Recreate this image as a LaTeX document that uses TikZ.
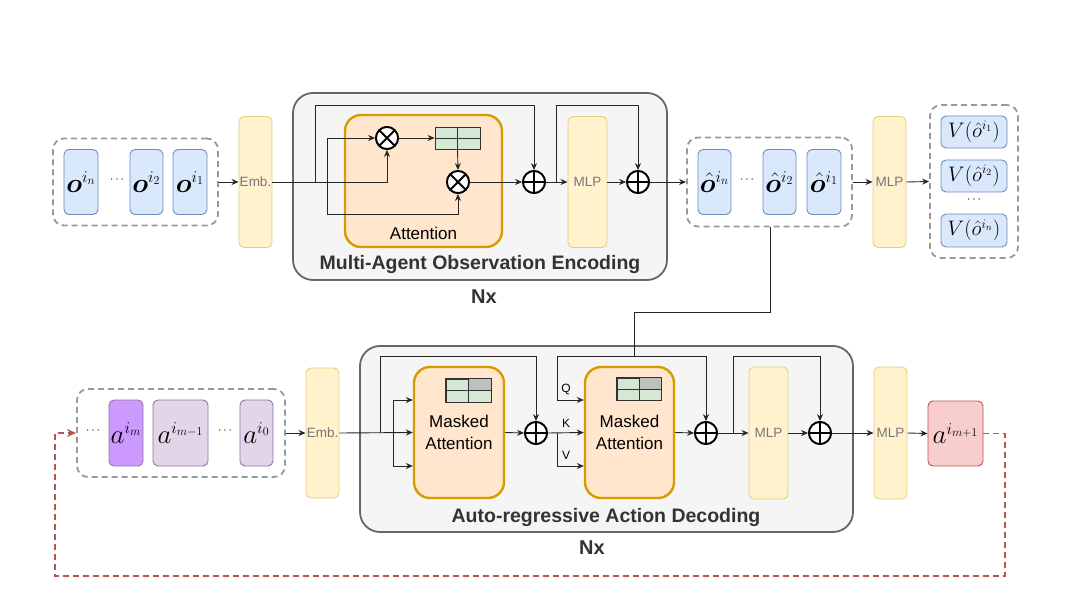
\RequirePackage{fix-cm}
\documentclass[tikz,border=0pt]{standalone}
\usepackage[no-math]{fontspec}
\usepackage{bm}
\newfontfamily\lsans{Liberation Sans}
\usetikzlibrary{arrows.meta,calc}
\DeclareMathSizes{27}{27}{16.5}{12}
\DeclareMathSizes{21}{21}{13}{9.5}
\definecolor{bfill}{HTML}{DAE8FC}
\definecolor{bdraw}{HTML}{6C8EBF}
\definecolor{yfill}{HTML}{FFF2CC}
\definecolor{ydraw}{HTML}{E6CF85}
\definecolor{ofill}{HTML}{FFE6CC}
\definecolor{odraw}{HTML}{D79B00}
\definecolor{gfill}{HTML}{F5F5F5}
\definecolor{gdraw}{HTML}{666666}
\definecolor{tfill}{HTML}{D5E8D4}
\definecolor{pfill}{HTML}{CC99FF}
\definecolor{lpfill}{HTML}{E1D5E7}
\definecolor{pdraw}{HTML}{9673A6}
\definecolor{rfill}{HTML}{F8CECC}
\definecolor{rdraw}{HTML}{B85450}
\definecolor{dashgray}{HTML}{999999}
\definecolor{txtgray}{HTML}{777777}
\definecolor{titlegray}{HTML}{333333}
\newcommand{\mfont}{\fontsize{27}{27}\selectfont}
\newcommand{\vfont}{\fontsize{21}{21}\selectfont}
\newcommand{\dfont}{\fontsize{12}{12}\selectfont}
\begin{document}
\begin{tikzpicture}[x=1pt,y=-1pt,
  lbox/.style={rounded corners=5pt, inner sep=0pt, line width=0.9pt},
  bluebox/.style={lbox, fill=bfill, draw=bdraw},
  ybox/.style={lbox, fill=yfill, draw=ydraw, font=\lsans\fontsize{13.5}{13.5}\selectfont, text=txtgray},
  grp/.style={rounded corners=11pt, draw=dashgray, line width=1.8pt, dash pattern=on 6pt off 4pt, inner sep=0pt},
  bigbox/.style={rounded corners=20pt, fill=gfill, draw=gdraw, line width=1.8pt, inner sep=0pt},
  attbox/.style={rounded corners=16pt, fill=ofill, draw=odraw, line width=2.4pt, inner sep=0pt},
  tab/.style={fill=tfill, draw=black!80, line width=0.8pt, inner sep=0pt},
  conn/.style={draw=black!85, line width=0.9pt},
  arr/.style={conn, -{Stealth[length=7pt,width=6pt]}},
  opl/.style={circle, draw=black, fill=white, line width=1.8pt, minimum size=22pt, inner sep=0pt,
    path picture={\draw[line width=1.8pt] (path picture bounding box.north) -- (path picture bounding box.south)
      (path picture bounding box.west) -- (path picture bounding box.east);}},
  otm/.style={circle, draw=black, fill=white, line width=1.8pt, minimum size=22pt, inner sep=0pt,
    path picture={\draw[line width=1.8pt] (path picture bounding box.north west) -- (path picture bounding box.south east)
      (path picture bounding box.south west) -- (path picture bounding box.north east);}},
  title/.style={font=\lsans\bfseries\fontsize{19.5}{19.5}\selectfont, text=titlegray},
  nx/.style={font=\lsans\bfseries\fontsize{20}{20}\selectfont, text=titlegray},
  small/.style={font=\lsans\fontsize{12}{12}\selectfont}
]
\useasboundingbox[fill=white] (0,0) rectangle (1076,593);

% ---------------- Encoder ----------------
\node[bigbox, minimum width=374pt, minimum height=187pt] (enc) at (480,186.5) {};
\node[attbox, minimum width=157pt, minimum height=132pt] (att) at (423.5,181) {};
\node[font=\lsans\fontsize{17}{17}\selectfont] (attlab) at (423.5,233) {Attention};
\node[title] (enctitle) at (480,265) {Multi-Agent Observation Encoding};
\node[nx] (nx1) at (484,297) {Nx};

\node[grp, minimum width=165pt, minimum height=87pt] (grp1) at (135.5,182) {};
\node[bluebox, minimum width=34pt, minimum height=65pt] (on) at (81,182) {\mfont$\bm{o}^{i_n}$};
\node (dots1) at (117,180) {\dfont$\cdots$};
\node[bluebox, minimum width=33pt, minimum height=65pt] (o2) at (146.5,182) {\mfont$\bm{o}^{i_2}$};
\node[bluebox, minimum width=34pt, minimum height=65pt] (o1) at (190,182) {\mfont$\bm{o}^{i_1}$};

\node[ybox, minimum width=33pt, minimum height=131pt] (emb1) at (255.5,182) {Emb.};

\node[otm] (mul1) at (387,138) {};
\node[otm] (mul2) at (458,182) {};
\node[tab, minimum width=45pt, minimum height=22pt] (tab1) at (457.5,138) {};
\draw[black!80, line width=0.8pt] (tab1.north) -- (tab1.south) (tab1.west) -- (tab1.east);

\node[opl] (add1) at (534,182) {};
\node[ybox, minimum width=39pt, minimum height=131pt] (mlp1) at (587.5,182) {MLP};
\node[opl] (add2) at (638,182) {};

\node[grp, minimum width=165pt, minimum height=89pt] (grp2) at (769.5,182) {};
\node[bluebox, minimum width=33pt, minimum height=65pt] (ohn) at (714.5,182) {\mfont$\hat{\bm{o}}^{i_n}$};
\node (dots2) at (747,180) {\dfont$\cdots$};
\node[bluebox, minimum width=33pt, minimum height=65pt] (oh2) at (779.5,182) {\mfont$\hat{\bm{o}}^{i_2}$};
\node[bluebox, minimum width=34pt, minimum height=65pt] (oh1) at (824,182) {\mfont$\hat{\bm{o}}^{i_1}$};

\node[ybox, minimum width=33pt, minimum height=131pt] (mlp2) at (889.5,182) {MLP};

\node[grp, minimum width=88pt, minimum height=153pt] (grp3) at (974,181.5) {};
\node[bluebox, minimum width=66pt, minimum height=32pt] (v1) at (974,132) {\vfont$V(\hat{o}^{i_1})$};
\node[bluebox, minimum width=66pt, minimum height=32pt] (v2) at (974,176) {\vfont$V(\hat{o}^{i_2})$};
\node (dots3) at (974,200) {\dfont$\cdots$};
\node[bluebox, minimum width=66pt, minimum height=33pt] (vn) at (974,230.5) {\vfont$V(\hat{o}^{i_n})$};

% encoder connectors
\coordinate (b1) at (315,182);
\coordinate (t1) at (315,105);
\coordinate (c1) at (327,138);
\coordinate (c2) at (327,214);
\coordinate (b2) at (556,182);
\coordinate (t2) at (556,105);
\draw[arr] (grp1.east) -- (emb1.west);
\draw[arr] (emb1.east) -| (mul1.south);
\draw[arr] (b1) -- (t1) -| (add1.north);
\draw[arr] (c1) -- (mul1.west);
\draw[arr] (c1) -- (c2) -| (mul2.south);
\draw[arr] (mul1.east) -- (tab1.west);
\draw[arr] (tab1.south) -- (mul2.north);
\draw[arr] (mul2.east) -- (add1.west);
\draw[arr] (add1.east) -- (mlp1.west);
\draw[arr] (b2) -- (t2) -| (add2.north);
\draw[arr] (mlp1.east) -- (add2.west);
\draw[arr] (add2.east) -- (grp2.west);
\draw[arr] (grp2.east) -- (mlp2.west);
\draw[arr] (mlp2.east) -- (grp3.west);

% ---------------- Decoder ----------------
\node[bigbox, minimum width=493pt, minimum height=186pt] (dec) at (606.5,439) {};
\node[title] (dectitle) at (606,517) {Auto-regressive Action Decoding};
\node[nx] (nx2) at (592,548) {Nx};

\node[grp, minimum width=208pt, minimum height=88pt] (grp4) at (181,433) {};
\node (dots4) at (93,431) {\dfont$\cdots$};
\node[lbox, fill=pfill, draw=pdraw, minimum width=34pt, minimum height=66pt] (am) at (126,433) {\mfont$a^{i_m}$};
\node[lbox, fill=lpfill, draw=pdraw, minimum width=55pt, minimum height=66pt] (am1) at (180.5,433) {\mfont$a^{i_{m-1}}$};
\node (dots5) at (225,431) {\dfont$\cdots$};
\node[lbox, fill=lpfill, draw=pdraw, minimum width=33pt, minimum height=66pt] (a0) at (256.5,433) {\mfont$a^{i_0}$};

\node[ybox, minimum width=33pt, minimum height=130pt] (emb2) at (322.5,433) {Emb.};

\node[attbox, minimum width=90pt, minimum height=131pt, align=center, font=\lsans\fontsize{17}{22}\selectfont] (ma1) at (459,432.5) {Masked\\Attention};
\node[tab, minimum width=45pt, minimum height=23pt] (tab2) at (468.5,390.5) {};
\fill[black!25] (tab2.center) rectangle (tab2.north east);
\draw[black!80, line width=0.8pt] (tab2.north) -- (tab2.south) (tab2.west) -- (tab2.east) (tab2.south west) rectangle (tab2.north east);

\node[opl] (add3) at (536,433) {};

\node[attbox, minimum width=89pt, minimum height=131pt, align=center, font=\lsans\fontsize{17}{22}\selectfont] (ma2) at (629.5,432.5) {Masked\\Attention};
\node[tab, minimum width=44pt, minimum height=22pt] (tab3) at (639,389) {};
\fill[black!25] (tab3.center) rectangle (tab3.north east);
\draw[black!80, line width=0.8pt] (tab3.north) -- (tab3.south) (tab3.west) -- (tab3.east) (tab3.south west) rectangle (tab3.north east);

\node[opl] (add4) at (706,433) {};
\node[ybox, minimum width=39pt, minimum height=132pt] (mlp3) at (768.5,433) {MLP};
\node[opl] (add5) at (820,433) {};
\node[ybox, minimum width=33pt, minimum height=132pt] (mlp4) at (890.5,433) {MLP};
\node[lbox, fill=rfill, draw=rdraw, minimum width=55pt, minimum height=65pt] (anext) at (955.5,433.5) {\mfont$a^{i_{m+1}}$};

\node[small] (qlab) at (566,389) {Q};
\node[small] (klab) at (566,423) {K};
\node[small] (vlab) at (566,455) {V};

% decoder connectors
\coordinate (b3) at (380,433);
\coordinate (t3) at (380,356);
\coordinate (d1) at (393,400);
\coordinate (d2) at (393,466);
\coordinate (k1) at (557,433);
\coordinate (vv) at (557,466);
\coordinate (qt) at (557,356);
\coordinate (q1) at (557,400);
\coordinate (b4) at (733,433);
\coordinate (t4) at (733,356);
\coordinate (e1) at (770,312);
\coordinate (e2) at (634,356);
\coordinate (r1) at (1005,576);
\coordinate (r2) at (55,576);

\draw[arr] (grp4.east) -- (emb2.west);
\draw[arr] (emb2.east) -- (ma1.west);
\draw[arr] (b3) -- (t3) -| (add3.north);
\draw[arr] (d1) -- (ma1.west |- d1);
\draw[arr] (d1) -- (d2) -- (ma1.west |- d2);
\draw[arr] (ma1.east) -- (add3.west);
\draw[arr] (add3.east) -- (ma2.west);
\draw[arr] (k1) -- (vv) -- (ma2.west |- vv);
\draw[arr] (qt) -- (q1) -- (ma2.west |- q1);
\draw[arr] (qt) -| (add4.north);
\draw[conn] (grp2.south -| e1) -- (e1) -| (e2);
\draw[arr] (ma2.east) -- (add4.west);
\draw[arr] (add4.east) -- (mlp3.west);
\draw[arr] (b4) -- (t4) -| (add5.north);
\draw[arr] (mlp3.east) -- (add5.west);
\draw[arr] (add5.east) -- (mlp4.west);
\draw[arr] (mlp4.east) -- (anext.west);
\draw[draw=rdraw, line width=1.5pt, dash pattern=on 6pt off 4pt, -{Stealth[length=9pt,width=8pt]}]
  (anext.east) -| (r1) -- (r2) |- (grp4.west);

% redraw circles on top
\node[otm] at (mul1) {};
\node[otm] at (mul2) {};
\node[opl] at (add1) {};
\node[opl] at (add2) {};
\node[opl] at (add3) {};
\node[opl] at (add4) {};
\node[opl] at (add5) {};
\end{tikzpicture}
\end{document}
